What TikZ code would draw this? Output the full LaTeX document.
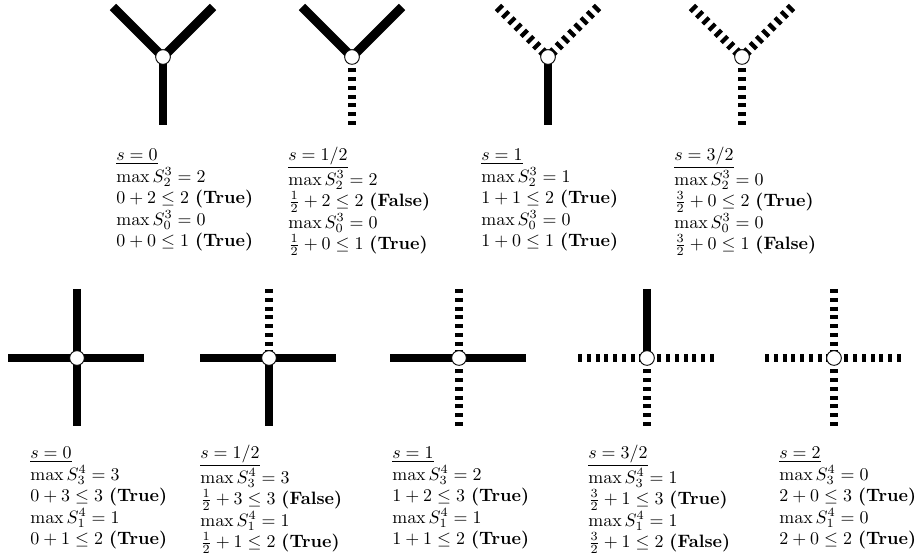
\documentclass[tikz,border=0pt]{standalone}
\usepackage{amsmath}
\usetikzlibrary{calc}
\begin{document}
\begin{tikzpicture}[x=0.558pt,y=-0.558pt,
  arm/.style={line width=5pt},
  dasharm/.style={line width=5pt, dash pattern=on 2.3pt off 2.6pt},
  vtx/.style={circle, draw, fill=white, line width=0.5pt, minimum size=8.2pt, inner sep=0pt},
  lbl/.style={anchor=north west, align=left, inner sep=0pt}]
\useasboundingbox (0,0) rectangle (916,557);
\newcommand{\fst}{\rule{0pt}{8pt}}
% ---------- top row ----------
\foreach \n/\x/\d/\v in {1/163/arm/arm, 2/352/arm/dasharm, 3/548/dasharm/arm, 4/742/dasharm/dasharm}{
  \coordinate (t\n) at (\x,57);
  \coordinate (t\n l) at ($(t\n)+(-50,-50)$);
  \coordinate (t\n r) at ($(t\n)+(50,-50)$);
  \coordinate (t\n b) at ($(t\n)+(0,68)$);
  \draw[\d] (t\n l) -- (t\n);
  \draw[\d] (t\n r) -- (t\n);
  \draw[\v] (t\n b) -- (t\n);
  \node[vtx] (tv\n) at (t\n) {};
}
% ---------- bottom row ----------
\foreach \n/\x/\u/\h/\w in {1/77/arm/arm/arm, 2/269/dasharm/arm/arm, 3/459/dasharm/arm/dasharm, 4/647/arm/dasharm/dasharm, 5/834/dasharm/dasharm/dasharm}{
  \coordinate (b\n) at (\x,358);
  \coordinate (b\n u) at ($(b\n)+(0,-69)$);
  \coordinate (b\n d) at ($(b\n)+(0,68)$);
  \coordinate (b\n l) at ($(b\n)+(-69,0)$);
  \coordinate (b\n r) at ($(b\n)+(67,0)$);
  \draw[\u] (b\n u) -- (b\n);
  \draw[\w] (b\n d) -- (b\n);
  \draw[\h] (b\n l) -- (b\n);
  \draw[\h] (b\n r) -- (b\n);
  \node[vtx] (bv\n) at (b\n) {};
}
% ---------- top labels ----------
\node[lbl] (tl1) at (116,146) {\fst\underline{$s=0$}\\ $\max S^3_2=2$\\ $0+2\leq 2$ \textbf{(True)}\\ $\max S^3_0=0$\\ $0+0\leq 1$ \textbf{(True)}};
\node[lbl] (tl2) at (288,146) {\fst\underline{$s=1/2$}\\ $\max S^3_2=2$\\ $\frac12+2\leq 2$ \textbf{(False)}\\ $\max S^3_0=0$\\ $\frac12+0\leq 1$ \textbf{(True)}};
\node[lbl] (tl3) at (481,146) {\fst\underline{$s=1$}\\ $\max S^3_2=1$\\ $1+1\leq 2$ \textbf{(True)}\\ $\max S^3_0=0$\\ $1+0\leq 1$ \textbf{(True)}};
\node[lbl] (tl4) at (674,146) {\fst\underline{$s=3/2$}\\ $\max S^3_2=0$\\ $\frac32+0\leq 2$ \textbf{(True)}\\ $\max S^3_0=0$\\ $\frac32+0\leq 1$ \textbf{(False)}};
% ---------- bottom labels ----------
\node[lbl] (bl1) at (30,444) {\fst\underline{$s=0$}\\ $\max S^4_3=3$\\ $0+3\leq 3$ \textbf{(True)}\\ $\max S^4_1=1$\\ $0+1\leq 2$ \textbf{(True)}};
\node[lbl] (bl2) at (200,444) {\fst\underline{$s=1/2$}\\ $\max S^4_3=3$\\ $\frac12+3\leq 3$ \textbf{(False)}\\ $\max S^4_1=1$\\ $\frac12+1\leq 2$ \textbf{(True)}};
\node[lbl] (bl3) at (392,444) {\fst\underline{$s=1$}\\ $\max S^4_3=2$\\ $1+2\leq 3$ \textbf{(True)}\\ $\max S^4_1=1$\\ $1+1\leq 2$ \textbf{(True)}};
\node[lbl] (bl4) at (588,444) {\fst\underline{$s=3/2$}\\ $\max S^4_3=1$\\ $\frac32+1\leq 3$ \textbf{(True)}\\ $\max S^4_1=1$\\ $\frac32+1\leq 2$ \textbf{(False)}};
\node[lbl] (bl5) at (779,444) {\fst\underline{$s=2$}\\ $\max S^4_3=0$\\ $2+0\leq 3$ \textbf{(True)}\\ $\max S^4_1=0$\\ $2+0\leq 2$ \textbf{(True)}};
\end{tikzpicture}
\end{document}
